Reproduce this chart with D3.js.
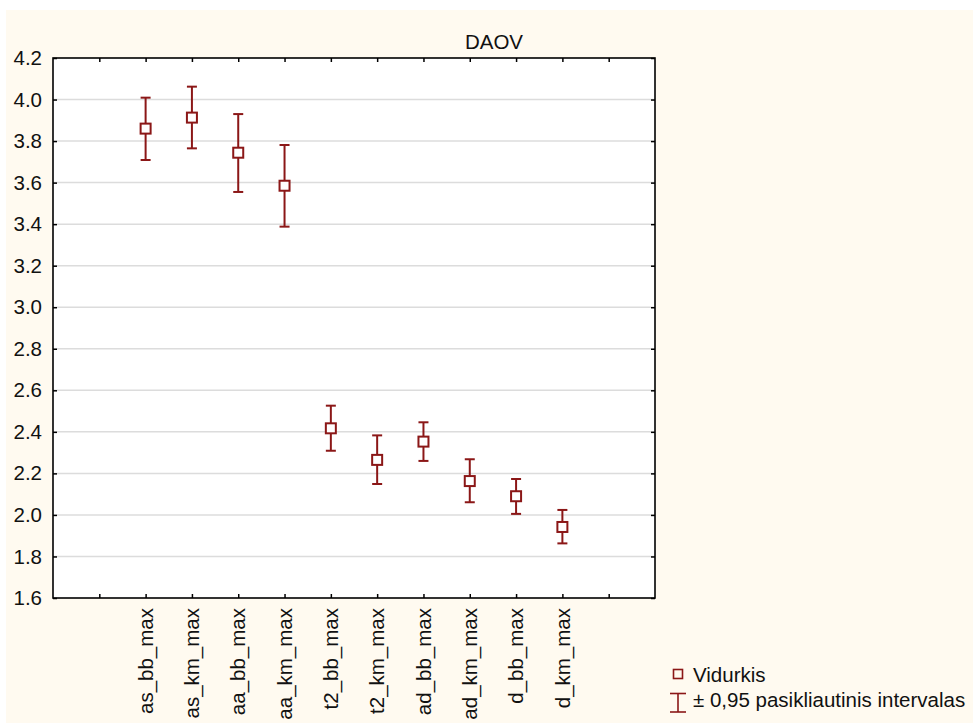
<!DOCTYPE html>
<html>
<head>
<meta charset="utf-8">
<script src="https://cdn.jsdelivr.net/npm/d3@7"></script>
<style>
    body { margin: 0; background: #ffffff; }
    text { font-family: "Liberation Sans", Arial, sans-serif; fill: #111; }
</style>
</head>
<body>
<div id="chart"></div>
<script>
// data
const categories = ['as_bb_max', 'as_km_max', 'aa_bb_max', 'aa_km_max', 't2_bb_max',
                    't2_km_max', 'ad_bb_max', 'ad_km_max', 'd_bb_max', 'd_km_max'];
const means = [3.860, 3.913, 3.744, 3.585, 2.417, 2.265, 2.353, 2.163, 2.090, 1.942];
const lower = [3.709, 3.765, 3.555, 3.388, 2.309, 2.149, 2.260, 2.061, 2.005, 1.863];
const upper = [4.009, 4.062, 3.930, 3.781, 2.526, 2.383, 2.446, 2.268, 2.173, 2.024];
const yTicks = [1.6, 1.8, 2.0, 2.2, 2.4, 2.6, 2.8, 3.0, 3.2, 3.4, 3.6, 3.8, 4.0, 4.2];
const xTicks = [1, 2, 3, 4, 5, 6, 7, 8, 9, 10, 11, 12];
const title = 'DAOV';
const legendMean = 'Vidurkis';
const legendCI = '± 0,95 pasikliautinis intervalas';

const W = 973, H = 724;
const plot = { left: 53, top: 58, right: 655, bottom: 598 };
const red = '#8b1717';
const fontSize = 20.5;

const svg = d3.select('#chart')
    .append('svg')
    .attr('width', W)
    .attr('height', H);

// cream background
svg.append('rect')
    .attr('x', 6)
    .attr('y', 10)
    .attr('width', W - 6)
    .attr('height', H - 11)
    .attr('fill', '#fffaf0');

svg.append('rect')
    .attr('x', plot.left)
    .attr('y', plot.top)
    .attr('width', plot.right - plot.left)
    .attr('height', plot.bottom - plot.top)
    .attr('fill', '#ffffff');

const xScale = d3.scaleLinear()
    .domain([0, 13])
    .range([plot.left, plot.right]);

const yScale = d3.scaleLinear()
    .domain([1.6, 4.2])
    .range([plot.bottom, plot.top]);

// gridlines
svg.append('g')
    .selectAll('line')
    .data(yTicks.slice(1, -1))
    .enter()
    .append('line')
    .attr('x1', plot.left)
    .attr('x2', plot.right)
    .attr('y1', d => yScale(d))
    .attr('y2', d => yScale(d))
    .attr('stroke', '#dcdcdc')
    .attr('stroke-width', 1.5);

// axes, ticks pointing inward
const yAxis = svg.append('g')
    .attr('transform', 'translate(' + plot.left + ',0)')
    .call(d3.axisLeft(yScale).tickValues(yTicks).tickSize(-4).tickSizeOuter(0)
        .tickPadding(11).tickFormat(d3.format('.1f')));

svg.append('g')
    .attr('transform', 'translate(' + plot.right + ',0)')
    .call(d3.axisRight(yScale).tickValues(yTicks).tickSize(-4).tickSizeOuter(0).tickFormat(''));

svg.append('g')
    .attr('transform', 'translate(0,' + plot.top + ')')
    .call(d3.axisTop(xScale).tickValues(xTicks).tickSize(-4).tickSizeOuter(0).tickFormat(''));

svg.append('g')
    .attr('transform', 'translate(0,' + plot.bottom + ')')
    .call(d3.axisBottom(xScale).tickValues(xTicks).tickSize(-4).tickSizeOuter(0).tickFormat(''));

svg.selectAll('.domain').remove();
svg.selectAll('.tick line').attr('stroke', '#000').attr('stroke-width', 1.5);

yAxis.selectAll('text')
    .style('font-family', '"Liberation Sans", Arial, sans-serif')
    .style('font-size', fontSize + 'px')
    .attr('fill', '#111');

// frame
svg.append('rect')
    .attr('x', plot.left)
    .attr('y', plot.top)
    .attr('width', plot.right - plot.left)
    .attr('height', plot.bottom - plot.top)
    .attr('fill', 'none')
    .attr('stroke', '#000')
    .attr('stroke-width', 1.6);

// category labels, rotated
svg.append('g')
    .selectAll('text')
    .data(categories)
    .enter()
    .append('text')
    .attr('transform', (d, i) => 'translate(' + xScale(i + 2) + ',' + (plot.bottom + 10) + ') rotate(-90)')
    .attr('dy', '0.35em')
    .attr('text-anchor', 'end')
    .style('font-size', fontSize + 'px')
    .text(d => d);

// error bars
const bars = svg.append('g')
    .selectAll('g')
    .data(categories.map((c, i) => ({ c: c, i: i, m: means[i], lo: lower[i], hi: upper[i] })))
    .enter()
    .append('g')
    .attr('stroke', red)
    .attr('stroke-width', 2)
    .attr('fill', 'none');

bars.append('line')
    .attr('x1', d => xScale(d.i + 2))
    .attr('x2', d => xScale(d.i + 2))
    .attr('y1', d => yScale(d.lo))
    .attr('y2', d => yScale(d.hi));

bars.append('line')
    .attr('x1', d => xScale(d.i + 2) - 5)
    .attr('x2', d => xScale(d.i + 2) + 5)
    .attr('y1', d => yScale(d.lo))
    .attr('y2', d => yScale(d.lo));

bars.append('line')
    .attr('x1', d => xScale(d.i + 2) - 5)
    .attr('x2', d => xScale(d.i + 2) + 5)
    .attr('y1', d => yScale(d.hi))
    .attr('y2', d => yScale(d.hi));

bars.append('rect')
    .attr('x', d => xScale(d.i + 2) - 5)
    .attr('y', d => yScale(d.m) - 5)
    .attr('width', 10)
    .attr('height', 10)
    .attr('fill', '#ffffff');

// title
svg.append('text')
    .attr('x', 494)
    .attr('y', 49)
    .attr('text-anchor', 'middle')
    .style('font-size', fontSize + 'px')
    .text(title);

// legend
const legend = svg.append('g').attr('transform', 'translate(678,0)');

legend.append('rect')
    .attr('x', -4.5)
    .attr('y', 669.5)
    .attr('width', 9)
    .attr('height', 9)
    .attr('fill', 'none')
    .attr('stroke', red)
    .attr('stroke-width', 1.6);

legend.append('text')
    .attr('x', 15)
    .attr('y', 681.5)
    .style('font-size', fontSize + 'px')
    .text(legendMean);

const ci = legend.append('g').attr('stroke', red).attr('stroke-width', 1.6);
ci.append('line').attr('x1', 0).attr('x2', 0).attr('y1', 693.5).attr('y2', 712);
ci.append('line').attr('x1', -8).attr('x2', 8).attr('y1', 693.5).attr('y2', 693.5);
ci.append('line').attr('x1', -8).attr('x2', 8).attr('y1', 712).attr('y2', 712);

legend.append('text')
    .attr('x', 15)
    .attr('y', 707)
    .style('font-size', fontSize + 'px')
    .text(legendCI);
</script>
</body>
</html>
